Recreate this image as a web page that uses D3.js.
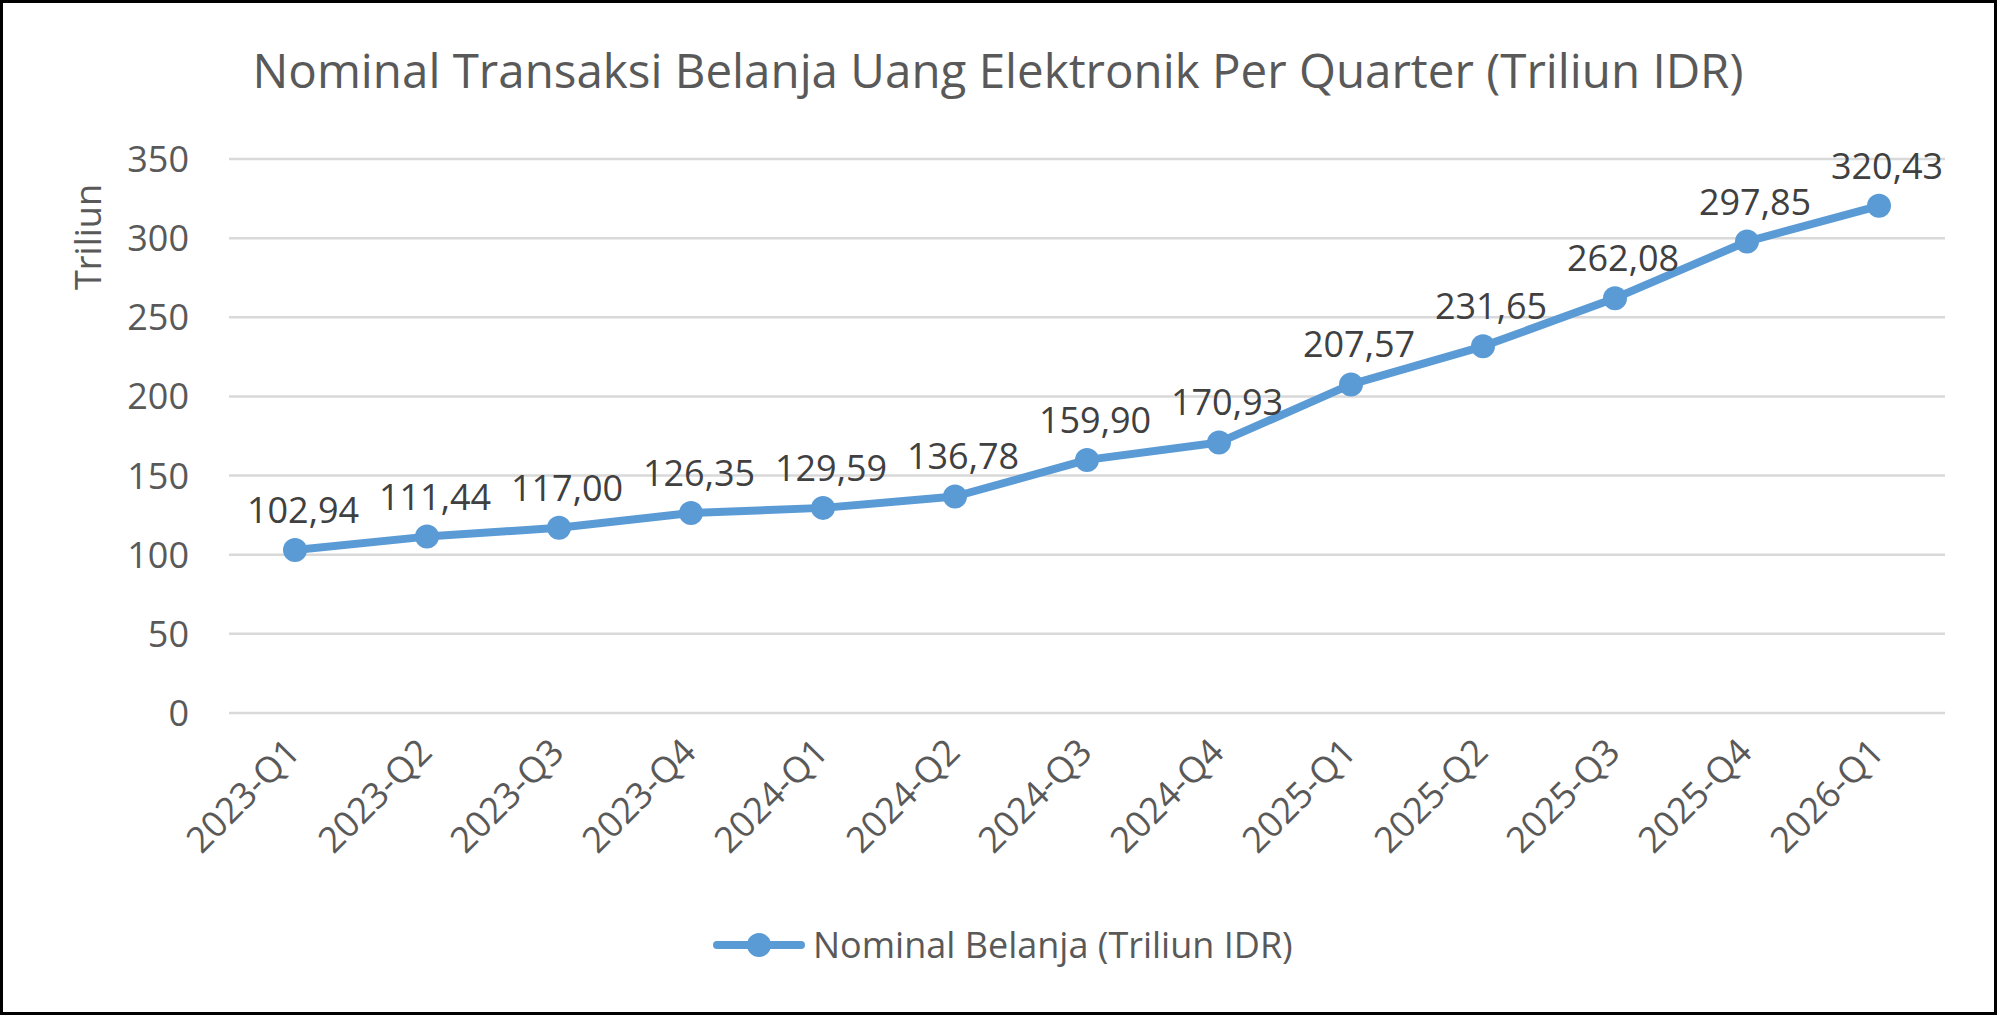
<!DOCTYPE html>
<html lang="en">
<head>
  <meta charset="UTF-8">
  <title>Nominal Transaksi Belanja Uang Elektronik</title>
  <script src="https://d3js.org/d3.v7.min.js"></script>
  <style>
    body { margin: 0; background: #fff; }
    text { font-family: 'Open Sans', sans-serif; fill: #595959; }
    .grid line { stroke: #d9d9d9; stroke-width: 2.5px; }
    .label { fill: #404040; font-size: 36px; text-anchor: middle; }
  </style>
</head>
<body>
<div id="chart"></div>
<script>
  // quarters and values (triliun IDR)
  const quarters = ['2023-Q1', '2023-Q2', '2023-Q3', '2023-Q4', '2024-Q1', '2024-Q2', '2024-Q3',
    '2024-Q4', '2025-Q1', '2025-Q2', '2025-Q3', '2025-Q4', '2026-Q1'];
  const nominal = [102.94, 111.44, 117.00, 126.35, 129.59, 136.78, 159.90,
    170.93, 207.57, 231.65, 262.08, 297.85, 320.43];
  const yTicks = [0, 50, 100, 150, 200, 250, 300, 350];

  const width = 1997, height = 1015;
  const plotLeft = 229, plotRight = 1945, plotTop = 159, plotBottom = 713;
  const blue = '#5b9bd5';

  const svg = d3.select('#chart').append('svg')
    .attr('width', width)
    .attr('height', height);

  svg.append('rect')
    .attr('x', 1.5).attr('y', 1.5)
    .attr('width', width - 3).attr('height', height - 3)
    .attr('fill', '#fff')
    .attr('stroke', '#000')
    .attr('stroke-width', 3);

  const x = d3.scaleBand().domain(quarters).range([plotLeft, plotRight]);
  const y = d3.scaleLinear().domain([0, 350]).range([plotBottom, plotTop]);
  const cx = d => x(d) + x.bandwidth() / 2;

  // title
  svg.append('text')
    .attr('x', 998).attr('y', 88)
    .attr('text-anchor', 'middle')
    .style('font-size', '47.5px')
    .text('Nominal Transaksi Belanja Uang Elektronik Per Quarter (Triliun IDR)');

  // gridlines
  svg.append('g').attr('class', 'grid')
    .selectAll('line')
    .data(yTicks)
    .enter().append('line')
    .attr('x1', plotLeft).attr('x2', plotRight)
    .attr('y1', d => y(d)).attr('y2', d => y(d));

  // y tick labels
  svg.append('g')
    .selectAll('text')
    .data(yTicks)
    .enter().append('text')
    .attr('x', 189)
    .attr('y', d => y(d))
    .attr('dy', '0.36em')
    .attr('text-anchor', 'end')
    .style('font-size', '36px')
    .text(d => d);

  // y axis title
  svg.append('text')
    .attr('transform', 'translate(101,237) rotate(-90)')
    .attr('text-anchor', 'middle')
    .style('font-size', '36px')
    .text('Triliun');

  // x tick labels, rotated
  svg.append('g')
    .selectAll('text')
    .data(quarters)
    .enter().append('text')
    .attr('transform', d => `translate(${cx(d) - 2},${plotBottom + 32}) rotate(-45)`)
    .attr('text-anchor', 'end')
    .attr('dy', '0.36em')
    .style('font-size', '36px')
    .text(d => d);

  // series line
  const line = d3.line()
    .x((d, i) => cx(quarters[i]))
    .y(d => y(d));

  svg.append('path')
    .datum(nominal)
    .attr('d', line)
    .attr('fill', 'none')
    .attr('stroke', blue)
    .attr('stroke-width', 8)
    .attr('stroke-linejoin', 'round');

  svg.append('g')
    .selectAll('circle')
    .data(nominal)
    .enter().append('circle')
    .attr('cx', (d, i) => cx(quarters[i]))
    .attr('cy', d => y(d))
    .attr('r', 12)
    .attr('fill', blue);

  // data labels
  const fmt = v => v.toFixed(2).replace('.', ',');
  svg.append('g')
    .selectAll('text')
    .data(nominal)
    .enter().append('text')
    .attr('class', 'label')
    .attr('x', (d, i) => cx(quarters[i]) + 8)
    .attr('y', d => y(d) - 27)
    .text(fmt);

  // legend
  const lg = svg.append('g').attr('transform', 'translate(713,945)');
  lg.append('line')
    .attr('x1', 4).attr('x2', 88)
    .attr('stroke', blue)
    .attr('stroke-width', 8)
    .attr('stroke-linecap', 'round');
  lg.append('circle')
    .attr('cx', 46).attr('r', 12)
    .attr('fill', blue);
  lg.append('text')
    .attr('x', 100).attr('y', 13)
    .style('font-size', '36px')
    .text('Nominal Belanja (Triliun IDR)');
</script>
</body>
</html>
